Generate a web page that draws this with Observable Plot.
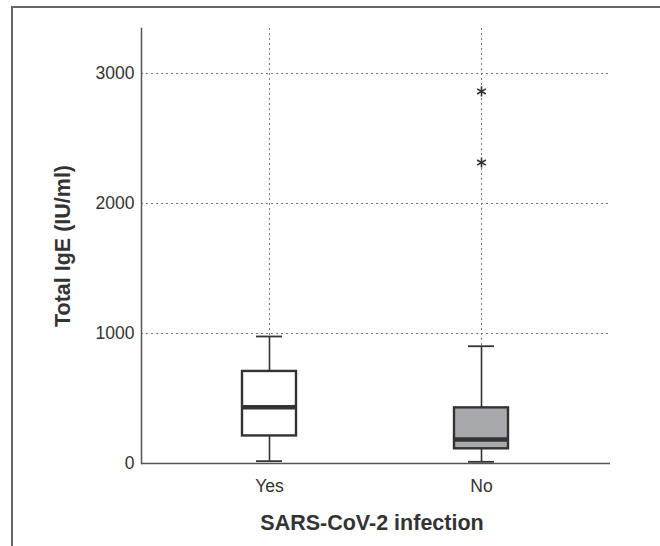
<!DOCTYPE html>
<html>
<head>
<meta charset="utf-8">
<script src="https://cdn.jsdelivr.net/npm/d3@7"></script>
<script src="https://cdn.jsdelivr.net/npm/@observablehq/plot@0.6"></script>
<style>
  html, body { margin: 0; padding: 0; background: #fff; }
  #wrap { position: relative; width: 660px; height: 546px; overflow: hidden; }
  #border { position: absolute; left: 11px; top: 6px; right: -4px; bottom: -4px;
            border-top: 2px solid #666; border-left: 2px solid #666; pointer-events: none; }
  svg { display: block; font-family: "Liberation Sans", Arial, sans-serif; }
</style>
</head>
<body>
<div id="wrap"><div id="border"></div></div>
<script>
// Data (Total IgE, IU/ml)
const groups = ["Yes", "No"];
const whiskerLow = [18, 13];
const q1 = [212, 113];
const median = [433, 185];
const q3 = [708, 428];
const whiskerHigh = [977, 902];
const outlierGroup = ["No", "No"];
const outlierValue = [2862, 2315];
const boxFill = ["#ffffff", "#a8a9ac"];
const yTicks = [0, 1000, 2000, 3000];
const xTitle = "SARS-CoV-2 infection";
const yTitle = "Total IgE (IU/ml)";

const boxes = groups.map((g, i) => ({
  group: g, lo: whiskerLow[i], q1: q1[i], med: median[i], q3: q3[i], hi: whiskerHigh[i], fill: boxFill[i]
}));
const outliers = outlierGroup.map((g, i) => ({group: g, value: outlierValue[i]}));

const ink = "#333";
const plot = Plot.plot({
  width: 660,
  height: 546,
  marginLeft: 141,
  marginRight: 50,
  marginTop: 28,
  marginBottom: 83,
  style: {fontFamily: "'Liberation Sans', Arial, sans-serif", background: "transparent"},
  x: {type: "band", domain: groups, paddingInner: 0.745, paddingOuter: 0.4785, label: null},
  y: {domain: [0, 3346], label: null},
  marks: [
    // dotted grid
    Plot.ruleY(yTicks.filter(d => d > 0), {stroke: "#777", strokeWidth: 1, strokeDasharray: "2,3"}),
    Plot.ruleX(groups, {stroke: "#777", strokeWidth: 1, strokeDasharray: "2,3"}),
    // axes
    Plot.axisY({ticks: yTicks, tickFormat: d3.format("d"), tickSize: 0, tickPadding: 7, fontSize: 17.5, color: ink, label: null}),
    Plot.axisX({tickSize: 0, tickPadding: 16, fontSize: 17.5, color: ink, label: null}),
    Plot.frame({anchor: "left", stroke: "#555", strokeWidth: 1.5}),
    Plot.ruleY([0], {stroke: "#555", strokeWidth: 1.5}),
    // whiskers
    Plot.ruleX(boxes, {x: "group", y1: "lo", y2: "q1", stroke: ink, strokeWidth: 1.6}),
    Plot.ruleX(boxes, {x: "group", y1: "q3", y2: "hi", stroke: ink, strokeWidth: 1.6}),
    Plot.tickY(boxes, {x: "group", y: "lo", stroke: ink, strokeWidth: 1.8, insetLeft: 14, insetRight: 14}),
    Plot.tickY(boxes, {x: "group", y: "hi", stroke: ink, strokeWidth: 1.8, insetLeft: 14, insetRight: 14}),
    // boxes
    Plot.barY(boxes, {x: "group", y1: "q1", y2: "q3", fill: "fill", stroke: ink, strokeWidth: 2.4}),
    Plot.tickY(boxes, {x: "group", y: "med", stroke: ink, strokeWidth: 4.5}),
    // outliers
    Plot.dot(outliers, {x: "group", y: "value", symbol: "asterisk", r: 4.8, stroke: ink, strokeWidth: 1.6}),
    // titles
    Plot.text([xTitle], {frameAnchor: "bottom", dx: -4, dy: 60, fontSize: 21.5, fontWeight: "bold", fill: ink, lineAnchor: "middle", textAnchor: "middle"}),
    Plot.text([yTitle], {frameAnchor: "left", dx: -78, rotate: -90, fontSize: 21.5, fontWeight: "bold", fill: ink, lineAnchor: "middle", textAnchor: "middle"})
  ]
});
document.getElementById("wrap").prepend(plot);
</script>
</body>
</html>
